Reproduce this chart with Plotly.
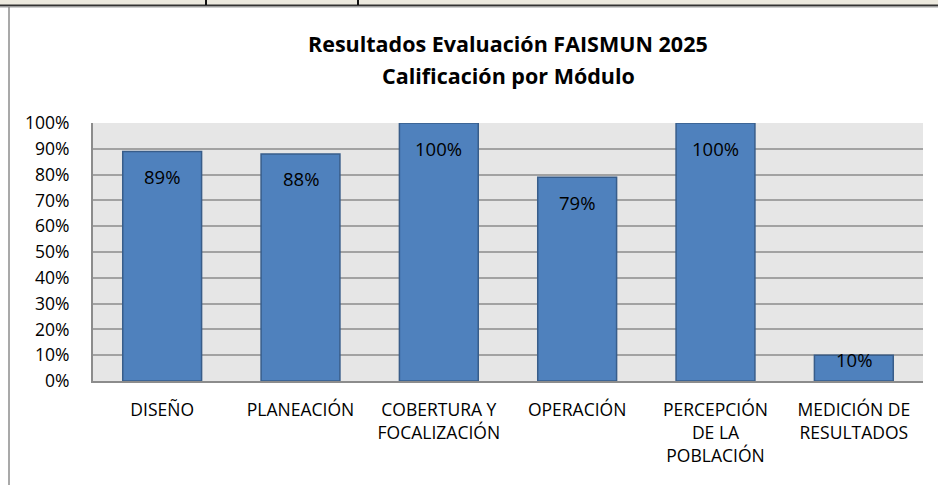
import plotly.graph_objects as go

categories = ["DISEÑO", "PLANEACIÓN", "COBERTURA Y<br>FOCALIZACIÓN", "OPERACIÓN",
              "PERCEPCIÓN<br>DE LA<br>POBLACIÓN", "MEDICIÓN DE<br>RESULTADOS"]
values = [0.89, 0.88, 1.00, 0.79, 1.00, 0.10]
value_labels = ["89%", "88%", "100%", "79%", "100%", "10%"]
tick_vals = [0, 0.1, 0.2, 0.3, 0.4, 0.5, 0.6, 0.7, 0.8, 0.9, 1.0]
tick_text = ["0%", "10%", "20%", "30%", "40%", "50%", "60%", "70%", "80%", "90%", "100%"]

W, H = 938, 485
ML, MR, MT, MB = 93, 15, 123, 104
PW, PH = W - ML - MR, H - MT - MB

def px(x):
    return (x - ML) / PW

def py(y):
    return (H - MB - y) / PH

FONT = "Open Sans"

fig = go.Figure()
fig.add_trace(go.Bar(
    x=categories, y=values,
    marker=dict(color="#4F81BD", line=dict(color="#385D8A", width=1.5)),
    width=0.57, hoverinfo="skip",
))

annotations = []
for c, v, t in zip(categories, values, value_labels):
    annotations.append(dict(x=c, y=v, xref="x", yref="y", text=t, showarrow=False,
                            yanchor="middle", yshift=-25 if v > 0.15 else -4,
                            font=dict(family=FONT, size=18.5, color="#000")))
annotations.append(dict(x=0.5, y=py(44), xref="paper", yref="paper",
                        text="<b>Resultados Evaluación FAISMUN 2025</b>", showarrow=False,
                        yanchor="middle", font=dict(family=FONT, size=21.5, color="#000")))
annotations.append(dict(x=0.5, y=py(76), xref="paper", yref="paper",
                        text="<b>Calificación por Módulo</b>", showarrow=False,
                        yanchor="middle", font=dict(family=FONT, size=21.5, color="#000")))

shapes = [
    # top strip of surrounding table
    dict(type="rect", xref="paper", yref="paper", x0=px(-5), x1=px(W + 5), y0=py(-5), y1=py(5),
         fillcolor="#ECE9DE", line=dict(width=0), layer="above"),
    dict(type="line", xref="paper", yref="paper", x0=px(-5), x1=px(W + 5), y0=py(5.5), y1=py(5.5),
         line=dict(color="#333333", width=2)),
    dict(type="line", xref="paper", yref="paper", x0=px(0), x1=px(W), y0=py(7), y1=py(7),
         line=dict(color="#A0A0A0", width=1)),
    dict(type="line", xref="paper", yref="paper", x0=px(206), x1=px(206), y0=py(-5), y1=py(5),
         line=dict(color="#111111", width=2)),
    dict(type="line", xref="paper", yref="paper", x0=px(358), x1=px(358), y0=py(-5), y1=py(5),
         line=dict(color="#111111", width=2)),
    # chart frame left border
    dict(type="line", xref="paper", yref="paper", x0=px(9), x1=px(9), y0=py(7), y1=py(H + 5),
         line=dict(color="#8C8C8C", width=1.5)),
]

fig.update_layout(
    width=W, height=H,
    margin=dict(l=ML, r=MR, t=MT, b=MB),
    paper_bgcolor="white", plot_bgcolor="#E6E6E6",
    showlegend=False,
    annotations=annotations, shapes=shapes,
    bargap=0.43,
    xaxis=dict(showgrid=False, showline=True, linecolor="#8C8C8C", linewidth=2,
               tickfont=dict(family=FONT, size=17.5, color="#000"), ticks="",
               ticklabelstandoff=12, fixedrange=True),
    yaxis=dict(range=[0, 1.0], tickvals=tick_vals, ticktext=tick_text,
               showgrid=True, gridcolor="#A2A2A2", gridwidth=2,
               showline=True, linecolor="#8C8C8C", linewidth=2, zeroline=False,
               tickfont=dict(family=FONT, size=17.5, color="#000"), ticks="",
               ticklabelstandoff=18, fixedrange=True),
)

fig.write_html("out.html", config={"displayModeBar": False},
               post_script="document.body.style.margin='0';document.body.style.overflow='hidden';")
